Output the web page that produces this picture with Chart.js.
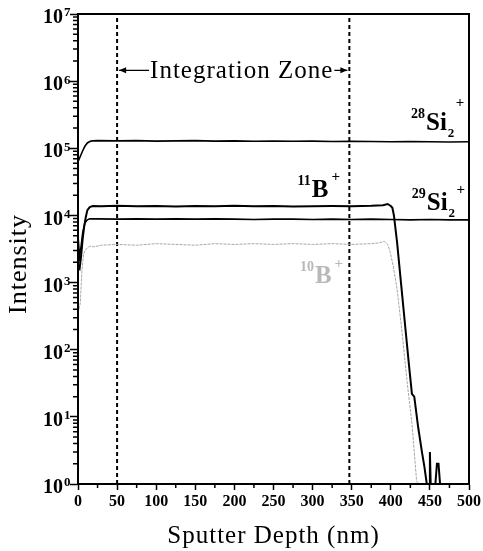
<!DOCTYPE html>
<html>
<head>
<meta charset="utf-8">
<script src="https://cdn.jsdelivr.net/npm/chart.js@4.4.0/dist/chart.umd.min.js"></script>
<style>
html, body { margin: 0; padding: 0; background: #fff; }
</style>
</head>
<body>
<canvas id="myChart" width="483" height="551"></canvas>
<script>
let myChart = document.getElementById('myChart').getContext('2d');

const serif = '"Liberation Serif", "Times New Roman", serif';

// depth (nm) and intensity for each ion
const si28Depth = [0, 3, 6, 9, 12, 15, 18, 25, 50, 75, 100, 125, 150, 175, 200, 225, 250, 275, 300, 325, 350, 375, 400, 425, 450, 475, 500];
const si28Vals = [6.3e4, 7.6e4, 9.2e4, 1.08e5, 1.2e5, 1.26e5, 1.29e5, 1.3e5, 1.29e5, 1.3e5, 1.28e5, 1.29e5, 1.3e5, 1.28e5, 1.29e5, 1.27e5, 1.28e5, 1.27e5, 1.28e5, 1.26e5, 1.27e5, 1.26e5, 1.25e5, 1.26e5, 1.25e5, 1.24e5, 1.25e5];

const b11Depth = [0, 2, 4, 6, 8, 10, 12, 15, 19, 30, 50, 75, 100, 125, 150, 175, 200, 225, 250, 275, 300, 325, 350, 375, 390, 396, 400, 402, 404, 408, 413, 418, 423, 427, 430, 435, 440, 443, 446, 449, 450, 451, 457, 459, 461, 463, 470, 500];
const b11Vals = [1.7e3, 1.6e3, 2.5e3, 4.5e3, 7e3, 9.5e3, 1.2e4, 1.33e4, 1.38e4, 1.37e4, 1.39e4, 1.37e4, 1.38e4, 1.36e4, 1.38e4, 1.37e4, 1.39e4, 1.37e4, 1.38e4, 1.36e4, 1.37e4, 1.38e4, 1.37e4, 1.39e4, 1.42e4, 1.48e4, 1.38e4, 1.3e4, 1.0e4, 4e3, 1e3, 250, 63, 22, 20, 7, 2.9, 1.8, 1, 1, 3, 1, 1, 2, 2, 1, 1, 1];

const si29Depth = [0, 2, 4, 6, 9, 12, 15, 25, 50, 75, 100, 125, 150, 175, 200, 225, 250, 275, 300, 325, 350, 375, 400, 425, 450, 475, 500];
const si29Vals = [5e3, 2.4e3, 3.5e3, 5.5e3, 7.8e3, 8.6e3, 8.9e3, 8.9e3, 8.8e3, 8.9e3, 8.8e3, 8.9e3, 8.8e3, 8.9e3, 8.8e3, 8.7e3, 8.8e3, 8.8e3, 8.7e3, 8.8e3, 8.7e3, 8.8e3, 8.7e3, 8.6e3, 8.7e3, 8.6e3, 8.6e3];

const b10Depth = [0, 3, 5, 7, 9, 12, 16, 20, 30, 50, 75, 100, 125, 150, 175, 200, 225, 250, 275, 300, 325, 350, 375, 385, 392, 396, 399, 403, 408, 414, 421, 427, 433, 436];
const b10Vals = [350, 500, 1.5e3, 2.6e3, 3.0e3, 3.3e3, 3.5e3, 3.4e3, 3.6e3, 3.7e3, 3.6e3, 3.8e3, 3.7e3, 3.6e3, 3.8e3, 3.7e3, 3.8e3, 3.7e3, 3.8e3, 3.7e3, 3.8e3, 3.7e3, 3.8e3, 3.9e3, 4.1e3, 3.7e3, 2.9e3, 1.8e3, 800, 200, 32, 8, 1.1, 1];

const zoneLimits = [50, 347];
const xTicks = [0, 50, 100, 150, 200, 250, 300, 350, 400, 450, 500];
const yTicks = [1, 10, 100, 1e3, 1e4, 1e5, 1e6, 1e7];

const ionLabels = [
  { x: 445, y: 1.9e5, pre: '28', main: 'Si', sub: '2', sup: '+', supRise: 23, color: '#000' },
  { x: 446, y: 1.2e4, pre: '29', main: 'Si', sub: '2', sup: '+', supRise: 16, color: '#000' },
  { x: 299, y: 1.9e4, pre: '11', main: 'B', sub: '', sup: '+', supRise: 16, color: '#000' },
  { x: 303, y: 1.0e3, pre: '10', main: 'B', sub: '', sup: '+', supRise: 15, color: '#b8b8b8' }
];

function pts(depth, vals) {
  return depth.map((d, i) => ({ x: d, y: vals[i] }));
}

const lineStyle = { pointRadius: 0, tension: 0, fill: false };

const data = {
  datasets: [
    Object.assign({ label: '10B+', data: pts(b10Depth, b10Vals), borderColor: '#a8a8a8', borderWidth: 1, borderDash: [3, 1] }, lineStyle),
    Object.assign({ label: '29Si2+', data: pts(si29Depth, si29Vals), borderColor: '#000', borderWidth: 1.6 }, lineStyle),
    Object.assign({ label: '11B+', data: pts(b11Depth, b11Vals), borderColor: '#000', borderWidth: 2 }, lineStyle),
    Object.assign({ label: '28Si2+', data: pts(si28Depth, si28Vals), borderColor: '#000', borderWidth: 1.6 }, lineStyle),
    Object.assign({ label: 'zone start', data: [{ x: zoneLimits[0], y: 1 }, { x: zoneLimits[0], y: 1e7 }], borderColor: '#000', borderWidth: 2, borderDash: [4, 3] }, lineStyle),
    Object.assign({ label: 'zone end', data: [{ x: zoneLimits[1], y: 1 }, { x: zoneLimits[1], y: 1e7 }], borderColor: '#000', borderWidth: 2, borderDash: [4, 3] }, lineStyle)
  ]
};

function arrowHead(ctx, x, y, dir) {
  ctx.beginPath();
  ctx.moveTo(x, y);
  ctx.lineTo(x - dir * 7, y - 3);
  ctx.lineTo(x - dir * 7, y + 3);
  ctx.closePath();
  ctx.fill();
}

const decorations = {
  id: 'decorations',
  afterDraw(chart) {
    const ctx = chart.ctx;
    const xs = chart.scales.x, ys = chart.scales.y;
    const a = chart.chartArea;
    ctx.save();
    ctx.strokeStyle = '#000';
    ctx.fillStyle = '#000';

    // frame
    ctx.lineWidth = 2;
    ctx.strokeRect(a.left, a.top, a.right - a.left, a.bottom - a.top);

    // minor ticks
    ctx.lineWidth = 1.5;
    ctx.beginPath();
    for (let v = 25; v < 500; v += 50) {
      const px = xs.getPixelForValue(v);
      ctx.moveTo(px, a.bottom);
      ctx.lineTo(px, a.bottom + 4);
    }
    for (let n = 0; n < 7; n++) {
      for (let k = 2; k <= 9; k++) {
        const py = ys.getPixelForValue(k * Math.pow(10, n));
        ctx.moveTo(a.left - 5, py);
        ctx.lineTo(a.left, py);
      }
    }
    ctx.stroke();

    // exponents of the y tick labels
    ctx.font = 'bold 13px ' + serif;
    ctx.textAlign = 'left';
    ctx.textBaseline = 'middle';
    yTicks.forEach(v => {
      ctx.fillText(String(Math.round(Math.log10(v))), a.left - 14, ys.getPixelForValue(v) - 1);
    });

    // integration zone
    const zx0 = xs.getPixelForValue(zoneLimits[0]);
    const zx1 = xs.getPixelForValue(zoneLimits[1]);
    const zy = ys.getPixelForValue(1.45e6);
    ctx.font = '25px ' + serif;
    ctx.letterSpacing = '1px';
    const txt = 'Integration Zone';
    const tw = ctx.measureText(txt).width;
    const tx = zx0 + 33;
    ctx.fillText(txt, tx, zy + 1);
    ctx.letterSpacing = '0px';
    ctx.lineWidth = 1.3;
    ctx.beginPath();
    ctx.moveTo(zx0 + 2, zy);
    ctx.lineTo(tx - 1, zy);
    ctx.moveTo(tx + tw + 1, zy);
    ctx.lineTo(zx1 - 2, zy);
    ctx.stroke();
    arrowHead(ctx, zx0 + 2, zy, -1);
    arrowHead(ctx, zx1 - 2, zy, 1);

    // ion labels
    ctx.textBaseline = 'alphabetic';
    ionLabels.forEach(l => {
      const px = xs.getPixelForValue(l.x);
      const py = ys.getPixelForValue(l.y);
      ctx.fillStyle = l.color;
      ctx.font = 'bold 14px ' + serif;
      ctx.textAlign = 'right';
      ctx.fillText(l.pre, px - 1, py - 12);
      ctx.textAlign = 'left';
      ctx.font = 'bold 25px ' + serif;
      ctx.fillText(l.main, px, py);
      let end = px + ctx.measureText(l.main).width;
      if (l.sub) {
        ctx.font = 'bold 13px ' + serif;
        ctx.fillText(l.sub, end + 1, py + 7);
      }
      ctx.font = 'bold 15px ' + serif;
      ctx.fillText(l.sup, end + (l.sub ? 9 : 3), py - l.supRise);
    });

    // axis titles
    ctx.fillStyle = '#000';
    ctx.textAlign = 'center';
    ctx.textBaseline = 'middle';
    ctx.letterSpacing = '1px';
    ctx.font = '25px ' + serif;
    ctx.fillText('Sputter Depth (nm)', (a.left + a.right) / 2, 536);
    ctx.font = '26px ' + serif;
    ctx.translate(19, 264);
    ctx.rotate(-Math.PI / 2);
    ctx.fillText('Intensity', 0, 0);
    ctx.restore();
  }
};

const config = {
  type: 'line',
  data: data,
  options: {
    responsive: false,
    animation: false,
    events: [],
    layout: { padding: { top: 14, right: 14, left: 0, bottom: 0 } },
    plugins: { legend: { display: false }, tooltip: { enabled: false } },
    scales: {
      x: {
        type: 'linear',
        min: 0,
        max: 500,
        afterBuildTicks: s => { s.ticks = xTicks.map(v => ({ value: v })); },
        afterFit: s => { s.height = 67; s.paddingLeft = 0; s.paddingRight = 0; },
        ticks: { color: '#000', font: { family: serif, size: 16, weight: 'bold' }, padding: 2, maxRotation: 0 },
        grid: { drawOnChartArea: false, tickLength: 6, tickColor: '#000', tickWidth: 1.5 },
        border: { color: '#000', width: 2 }
      },
      y: {
        type: 'logarithmic',
        min: 1,
        max: 1e7,
        afterBuildTicks: s => { s.ticks = yTicks.map(v => ({ value: v })); },
        afterFit: s => { s.width = 78; s.paddingTop = 0; s.paddingBottom = 0; },
        ticks: {
          color: '#000',
          font: { family: serif, size: 20, weight: 'bold' },
          padding: 7,
          labelOffset: 4,
          callback: () => '10'
        },
        grid: { drawOnChartArea: false, tickLength: 8, tickColor: '#000', tickWidth: 1.5 },
        border: { color: '#000', width: 2 }
      }
    }
  },
  plugins: [decorations]
};

let massPopChart = new Chart(myChart, config);
</script>
</body>
</html>
